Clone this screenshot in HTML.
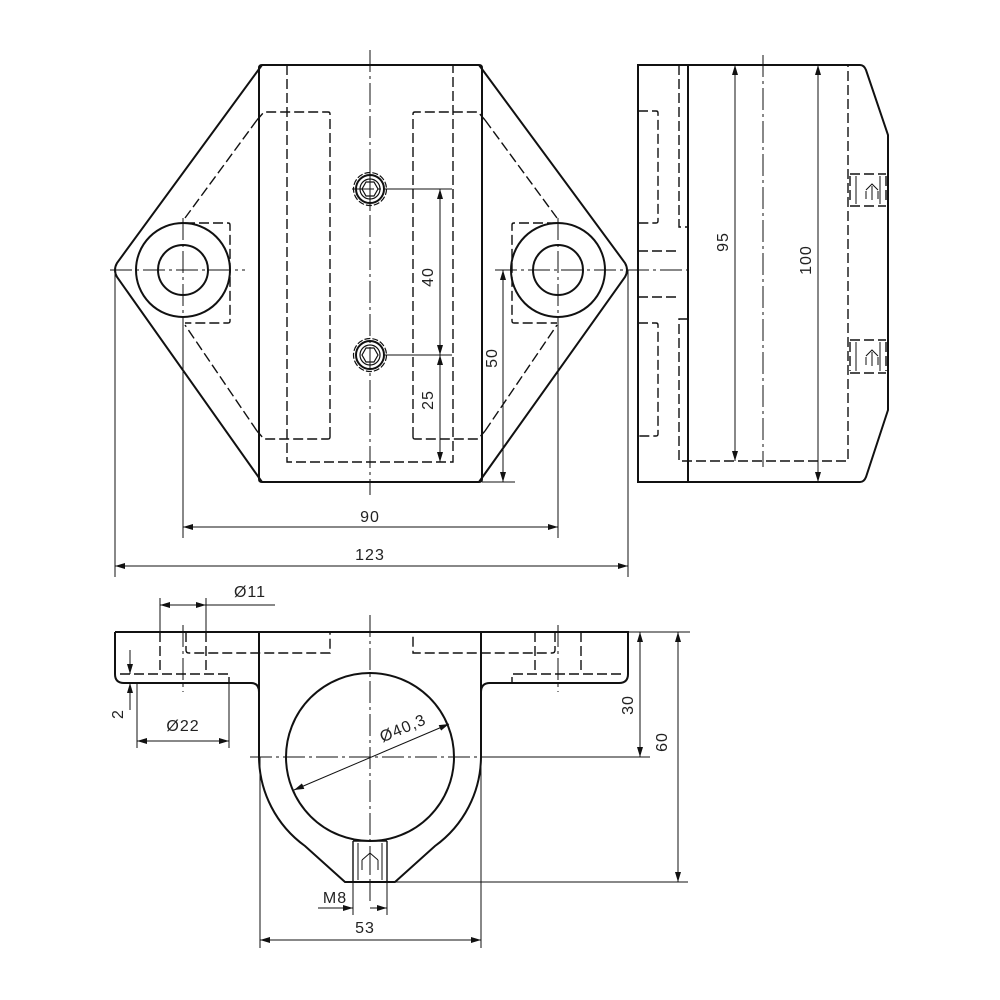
<!DOCTYPE html>
<html><head><meta charset="utf-8"><style>
html,body{margin:0;padding:0;background:#fff}
svg{display:block}
text{font-family:"Liberation Sans",sans-serif;font-size:16px;fill:#222;letter-spacing:1px}
</style></head><body>
<svg width="1000" height="1000" viewBox="0 0 1000 1000" xmlns="http://www.w3.org/2000/svg">
<defs>
<marker id="a" viewBox="0 0 10 6" refX="10" refY="3" markerWidth="10" markerHeight="6" orient="auto-start-reverse" markerUnits="userSpaceOnUse"><path d="M0,0 L10,3 L0,6 z" fill="#111"/></marker>
</defs>
<g fill="none" stroke="#111">
<!-- ===== TOP VIEW ===== -->
<g stroke-width="2">
<path d="M262,65 L479,65 Q482,65 482,68 L482,479 Q482,482 479,482 L262,482 Q259,482 259,479 L259,68 Q259,65 262,65 Z"/>
<path d="M262,65 L117,263 Q113,270 117,277 L262,482"/>
<path d="M479,65 L625,263 Q629,270 625,277 L479,482"/>
<circle cx="183" cy="270" r="47"/><circle cx="183" cy="270" r="25"/>
<circle cx="558" cy="270" r="47"/><circle cx="558" cy="270" r="25"/>
<circle cx="370" cy="189" r="14"/><circle cx="370" cy="355" r="14"/>
</g>
<g stroke-width="1.2">
<circle cx="370" cy="189" r="16.5" stroke-dasharray="6 2"/><circle cx="370" cy="355" r="16.5" stroke-dasharray="6 2"/>
<circle cx="370" cy="189" r="10"/><circle cx="370" cy="355" r="10"/>
<polygon points="362,189 366,182 374,182 378,189 374,196 366,196"/>
<polygon points="362,355 366,348 374,348 378,355 374,362 366,362"/>
</g>
<g stroke-width="1.4" stroke-dasharray="10 4">
<path d="M287,65 L287,462 L453,462 L453,65"/>
<path d="M330,437 L330,114 Q330,112 328,112 L264,112 L257,120"/>
<path d="M330,437 Q330,439 328,439 L264,439 L257,431"/>
<path d="M413,437 L413,114 Q413,112 415,112 L478,112 L485,120"/>
<path d="M413,437 Q413,439 415,439 L478,439 L485,431"/>
<path d="M257,120 L185,218"/><path d="M257,431 L185,325"/>
<path d="M485,120 L557,218"/><path d="M485,431 L557,325"/>
<path d="M185,223 L228,223 Q230,223 230,225 L230,321 Q230,323 228,323 L185,323"/>
<path d="M557,223 L514,223 Q512,223 512,225 L512,321 Q512,323 514,323 L557,323"/>
</g>
<g stroke-width="1" stroke-dasharray="22 4 3 4">
<path d="M370,50 L370,495"/>
<path d="M110,270 L245,270"/><path d="M495,270 L692,270"/>
<path d="M183,218 L183,330"/><path d="M558,218 L558,330"/>
<path d="M352,189 L388,189"/><path d="M370,170 L370,208"/>
</g>
<g stroke-width="1">
<path d="M385,189 L452,189"/><path d="M385,355 L452,355"/>
<path d="M440,189 L440,355" marker-start="url(#a)" marker-end="url(#a)"/>
<path d="M440,355 L440,462" marker-start="url(#a)" marker-end="url(#a)"/>
<path d="M482,482 L515,482"/>
<path d="M503,270 L503,482" marker-start="url(#a)" marker-end="url(#a)"/>
<path d="M183,320 L183,538"/><path d="M558,320 L558,538"/>
<path d="M183,527 L558,527" marker-start="url(#a)" marker-end="url(#a)"/>
<path d="M115,270 L115,577"/><path d="M628,270 L628,577"/>
<path d="M115,566 L628,566" marker-start="url(#a)" marker-end="url(#a)"/>
</g>
<!-- ===== SIDE VIEW ===== -->
<g stroke-width="2">
<path d="M638,65 L860,65 Q864,65 866,70 L888,135 L888,410 L866,477 Q864,482 860,482 L638,482 Z"/>
<path d="M688,65 L688,482"/>
</g>
<g stroke-width="1.4" stroke-dasharray="10 4">
<path d="M679,65 L679,227 L688,227"/>
<path d="M688,319 L679,319 L679,461 L848,461 L848,65"/>
<path d="M638,111 L656,111 Q658,111 658,113 L658,221 Q658,223 656,223 L638,223"/>
<path d="M638,323 L656,323 Q658,323 658,325 L658,434 Q658,436 656,436 L638,436"/>
<path d="M638,251 L680,251"/><path d="M638,297 L680,297"/>
<path d="M850,174 L886,174 M850,206 L886,206 M850,176 L850,204 M886,176 L886,204"/>
<path d="M850,340 L886,340 M850,373 L886,373 M850,342 L850,371 M886,342 L886,371"/>
</g>
<g stroke-width="1">
<path d="M856,176 L856,204 M880,176 L880,204 M856,342 L856,371 M880,342 L880,371"/>
<path d="M866,190 L872,184 L878,190 M866,191 L866,199 M872,186 L872,200 M878,191 L878,199"/>
<path d="M866,356 L872,350 L878,356 M866,357 L866,365 M872,352 L872,366 M878,357 L878,365"/>
</g>
<path d="M763,55 L763,467" stroke-width="1" stroke-dasharray="22 4 3 4"/>
<g stroke-width="1">
<path d="M735,65 L735,461" marker-start="url(#a)" marker-end="url(#a)"/>
<path d="M818,65 L818,482" marker-start="url(#a)" marker-end="url(#a)"/>
</g>
<!-- ===== FRONT VIEW ===== -->
<g stroke-width="2">
<path d="M259,632 L481,632"/>
<path d="M115,632 L259,632 L259,757 A111,111 0 0 0 305,846 L345,882 L395,882 L435,846 A111,111 0 0 0 481,757 L481,632 L628,632 L628,674 Q628,683 619,683 L490,683 Q481,683 481,692"/>
<path d="M115,632 L115,674 Q115,683 124,683 L251,683 Q259,683 259,692"/>
<circle cx="370" cy="757" r="84"/>
</g>
<g stroke-width="1.4">
<path d="M353,841 L353,882 M387,841 L387,882 M353,841 L387,841"/>
</g>
<g stroke-width="1">
<path d="M358,843 L358,880 M382,843 L382,880"/>
<path d="M362,860 L370,853 L378,860 M362,860 L362,870 M370,855 L370,872 M378,860 L378,870"/>
</g>
<g stroke-width="1.4" stroke-dasharray="10 4">
<path d="M160,632 L160,674 M206,632 L206,674"/>
<path d="M120,674 L229,674 L229,683"/>
<path d="M186,632 L186,650 Q186,653 189,653 L330,653 L330,632"/>
<path d="M581,632 L581,674 M535,632 L535,674"/>
<path d="M621,674 L512,674 L512,683"/>
<path d="M555,632 L555,650 Q555,653 552,653 L413,653 L413,632"/>
</g>
<g stroke-width="1" stroke-dasharray="22 4 3 4">
<path d="M370,615 L370,905"/>
<path d="M250,757 L481,757"/>
<path d="M183,625 L183,692"/><path d="M558,625 L558,692"/>
</g>
<g stroke-width="1">
<path d="M160,598 L160,632 M206,598 L206,632"/>
<path d="M160,605 L206,605" marker-start="url(#a)" marker-end="url(#a)"/>
<path d="M206,605 L275,605"/>
<path d="M137,683 L137,748 M229,683 L229,748"/>
<path d="M137,741 L229,741" marker-start="url(#a)" marker-end="url(#a)"/>
<path d="M130,650 L130,674" marker-end="url(#a)"/>
<path d="M130,710 L130,683" marker-end="url(#a)"/>
<path d="M628,632 L690,632"/><path d="M481,757 L650,757"/><path d="M395,882 L688,882"/>
<path d="M640,632 L640,757" marker-start="url(#a)" marker-end="url(#a)"/>
<path d="M678,632 L678,882" marker-start="url(#a)" marker-end="url(#a)"/>
<path d="M294,790 L449,724" marker-start="url(#a)" marker-end="url(#a)"/>
<path d="M353,882 L353,915 M387,882 L387,915"/>
<path d="M318,908 L353,908" marker-end="url(#a)"/>
<path d="M387,908 L370,908" marker-start="url(#a)"/>
<path d="M260,757 L260,948 M481,757 L481,948"/>
<path d="M260,940 L481,940" marker-start="url(#a)" marker-end="url(#a)"/>
</g>
</g>
<text x="428" y="277" text-anchor="middle" transform="rotate(-90 428 277)" dy="5">40</text>
<text x="428" y="400" text-anchor="middle" transform="rotate(-90 428 400)" dy="5">25</text>
<text x="492" y="358" text-anchor="middle" transform="rotate(-90 492 358)" dy="5">50</text>
<text x="370" y="522" text-anchor="middle">90</text>
<text x="370" y="560" text-anchor="middle">123</text>
<text x="723" y="242" text-anchor="middle" transform="rotate(-90 723 242)" dy="5">95</text>
<text x="806" y="260" text-anchor="middle" transform="rotate(-90 806 260)" dy="5">100</text>
<text x="250" y="597" text-anchor="middle">Ø11</text>
<text x="183" y="731" text-anchor="middle">Ø22</text>
<text x="118" y="714" text-anchor="middle" transform="rotate(-90 118 714)" dy="5">2</text>
<text x="628" y="705" text-anchor="middle" transform="rotate(-90 628 705)" dy="5">30</text>
<text x="662" y="742" text-anchor="middle" transform="rotate(-90 662 742)" dy="5">60</text>
<text x="405" y="733" text-anchor="middle" transform="rotate(-23 405 733)">Ø40,3</text>
<text x="335" y="903" text-anchor="middle">M8</text>
<text x="365" y="933" text-anchor="middle">53</text>
</svg>
</body></html>
